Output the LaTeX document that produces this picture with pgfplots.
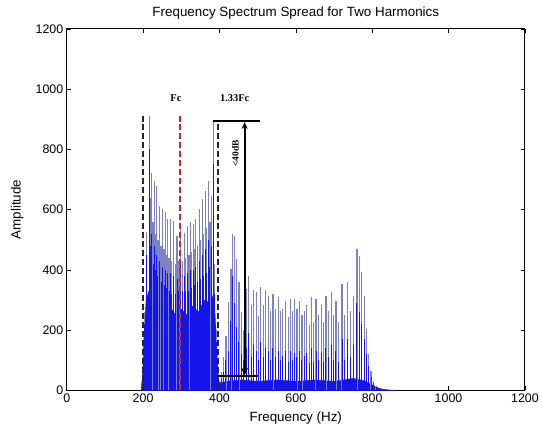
\documentclass[border=0pt]{standalone}
\usepackage{fontspec}
\setmainfont{Liberation Sans}
\newfontfamily\timesfont{Liberation Serif}
\usepackage{pgfplots}
\usepackage{pgfplotstable}
\usetikzlibrary{arrows.meta}
\pgfplotsset{compat=1.18}

\definecolor{spikegray}{RGB}{125,130,195}
\definecolor{mblue}{RGB}{20,20,235}
\definecolor{fcred}{RGB}{200,40,40}

% spectrum lines: frequency, outer peak, saturated core
\pgfplotstableread{
f peak core
203 260 220
209 525 450
216 910 800
219 640 480
223 723 520
226 560 420
230 695 480
233 520 400
236 679 450
239 500 380
243 613 430
247 480 360
251 602 410
255 470 350
258 591 400
261 450 340
264 569 390
268 440 330
271 569 390
275 430 320
280 563 380
284 420 320
289 514 370
294 430 330
299 535 420
303 430 330
308 524 380
312 440 330
316 547 390
320 450 330
324 558 400
327 460 340
331 552 400
334 470 350
338 569 410
342 480 360
347 602 430
351 500 370
356 635 450
359 520 380
363 662 470
367 540 390
371 695 500
375 560 410
379 646 480
384 895 750
388 420 320
392 200 160
405 60 40
411 110 60
417 180 100
423 293 130
430 403 230
434 519 380
440 511 290
445 436 210
451 359 160
457 260 120
462 200 100
471 337 140
477 381 190
484 282 110
490 332 150
496 326 130
502 248 100
508 343 160
515 282 110
521 332 140
528 315 130
534 262 100
540 321 140
547 271 110
554 310 130
560 262 100
566 271 115
573 298 130
580 243 95
586 304 130
592 262 100
597 302 125
603 271 110
609 298 130
616 251 100
623 265 115
629 282 125
635 216 90
641 310 140
647 227 95
653 304 130
660 251 100
667 282 125
673 227 95
679 315 140
686 262 110
693 326 150
699 251 100
705 298 130
712 227 95
721 354 170
728 251 100
736 359 170
743 262 110
751 315 150
760 469 290
766 447 260
773 392 220
779 315 170
785 205 120
791 121 80
797 65 45
803 32 25
810 15 12
}\spikes

\begin{document}
\begin{tikzpicture}
\begin{axis}[
  scale only axis,
  width=460bp, height=363bp,
  xmin=0, xmax=1200, ymin=0, ymax=1200,
  xtick={0,200,...,1200},
  ytick={0,200,...,1200},
  tick align=inside,
  major tick length=4bp,
  tick style={black, line width=0.6pt},
  axis line style={line width=0.9pt},
  /pgf/number format/assume math mode=true,
  /pgf/number format/set thousands separator={},
  scaled ticks=false,
  ticklabel style={font=\fontsize{12.5}{12.5}\selectfont},
  title={Frequency Spectrum Spread for Two Harmonics},
  title style={at={(axis description cs:0.5,1)}, anchor=south, yshift=0bp, font=\fontsize{13.5}{13.5}\selectfont},
  xlabel={Frequency (Hz)},
  xlabel style={at={(axis description cs:0.5,-0.048)}, anchor=north, font=\fontsize{13.5}{13.5}\selectfont},
  ylabel={Amplitude},
  ylabel style={at={(axis description cs:-0.087,0.5)}, anchor=south, font=\fontsize{13.5}{13.5}\selectfont},
]
% noise floor
\addplot[fill=mblue, draw=mblue, line width=0.4pt] coordinates {
 (195,0) (199,60) (203,200) (208,300) (215,330) (225,280) (240,300) (255,260)
 (270,280) (285,250) (300,270) (315,250) (330,280) (345,260) (360,300) (375,290)
 (385,320) (391,200) (396,60) (400,25) (420,30) (460,35) (500,30)
 (550,35) (600,30) (650,35) (700,30) (750,40) (780,32) (800,18) (820,6)
 (840,2) (860,0)} \closedcycle;
% spikes
\addplot[ycomb, draw=spikegray, line width=1.2pt, mark=none] table[x=f, y=peak] {\spikes};
\addplot[ycomb, draw=mblue, line width=1.0pt, mark=none] table[x=f, y=core] {\spikes};
% markers of the band
\addplot[black!85, line width=1.6pt, dash pattern=on 6bp off 3bp] coordinates {(200,0) (200,920)};
\addplot[black!85, line width=1.6pt, dash pattern=on 6bp off 3bp] coordinates {(396,0) (396,890)};
\addplot[fcred, line width=1.5pt, dash pattern=on 6bp off 3bp] coordinates {(297,0) (297,910)};
\addplot[black, line width=2pt] coordinates {(383,893) (507,893)};
\addplot[black, line width=1.8pt] coordinates {(396,47) (502,47)};
\addplot[black, line width=2pt, {Stealth[length=8bp,width=7bp]}-{Stealth[length=7bp,width=6bp]}] coordinates {(466,49) (466,891)};
\node[font=\timesfont\bfseries\fontsize{10.5}{10.5}\selectfont] at (axis cs:286,971) {Fc};
\node[font=\timesfont\bfseries\fontsize{10.5}{10.5}\selectfont] at (axis cs:440,971) {1.33Fc};
\node[font=\timesfont\bfseries\fontsize{9.5}{9.5}\selectfont, rotate=90] at (axis cs:442,787) {<40dB};
\end{axis}
\path ([shift={(-67bp,-41bp)}]current axis.south west) rectangle ([shift={(15bp,29bp)}]current axis.north east);
\end{tikzpicture}
\end{document}
